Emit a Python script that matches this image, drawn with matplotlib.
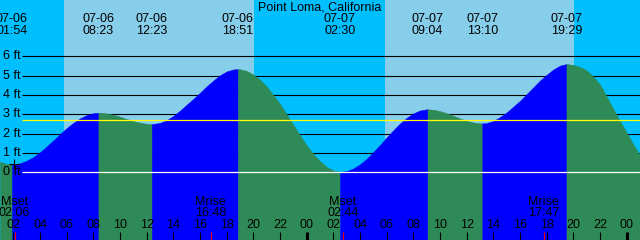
import matplotlib
matplotlib.use("Agg")
import numpy as np
import matplotlib.pyplot as plt
import matplotlib.transforms as mtransforms

plt.rcParams['font.family'] = ['Liberation Sans', 'DejaVu Sans']

station = "Point Loma, California"

# tide extremes (time, height in ft)
tide_times = ["07-06 01:54", "07-06 08:23", "07-06 12:23", "07-06 18:51",
              "07-07 02:30", "07-07 09:04", "07-07 13:10", "07-07 19:29"]
tide_heights = [0.41, 3.08, 2.50, 5.34, 0.02, 3.26, 2.53, 5.60]
tide_kind = ["low", "high", "low", "high", "low", "high", "low", "high"]

# heights every half hour, 07-06 01:00 .. 07-08 01:00
halfhour_heights = [
    0.55, 0.43, 0.41, 0.47, 0.60, 0.79, 1.04, 1.34, 1.65, 1.98,
    2.29, 2.56, 2.79, 2.96, 3.06, 3.08, 3.05, 2.98, 2.88, 2.76,
    2.65, 2.57, 2.51, 2.50, 2.56, 2.70, 2.92, 3.19, 3.50, 3.80,
    4.12, 4.45, 4.75, 5.02, 5.22, 5.32, 5.33, 5.25, 5.06, 4.80,
    4.45, 4.00, 3.55, 3.00, 2.45, 1.92, 1.40, 0.95, 0.58, 0.28,
    0.10, 0.02, 0.07, 0.20, 0.42, 0.70, 1.05, 1.42, 1.81, 2.18,
    2.53, 2.82, 3.05, 3.20, 3.26, 3.24, 3.17, 3.06, 2.93, 2.79,
    2.67, 2.58, 2.54, 2.55, 2.66, 2.86, 3.10, 3.40, 3.70, 4.05,
    4.40, 4.75, 5.05, 5.32, 5.52, 5.60, 5.56, 5.45, 5.28, 4.95,
    4.55, 3.92, 3.28, 2.66, 2.05, 1.45, 0.88]

sunrise = ["07-06 05:48", "07-07 05:53"]
sunset = ["07-06 20:03", "07-07 20:03"]

moon_names = ["Mset", "Mrise", "Mset", "Mrise"]
moon_times = ["07-06 02:06", "07-06 16:48", "07-07 02:44", "07-07 17:47"]

mark_time = "07-06 02:03"
mark_height = 0.42

mean_level = 2.69
ft_levels = [1, 2, 3, 4, 5, 6]

start, end = 1.0, 49.0   # hours from 07-06 00:00


def hrs(s):
    # "07-06 01:54" -> hours since 07-06 00:00
    day = int(s[3:5]) - 6
    return day * 24 + int(s[6:8]) + int(s[9:11]) / 60.0


# pixel helpers (figure is 640x240, axes fill it)
px_per_hr = 640 / (end - start)
y0_px, px_per_ft = 172.3, 19.33
ybot = (y0_px - 240) / px_per_ft
ytop = y0_px / px_per_ft
fs = 9

fig = plt.figure(figsize=(6.4, 2.4), dpi=100)
ax = fig.add_axes([0, 0, 1, 1])
ax.set_xlim(start, end)
ax.set_ylim(ybot, ytop)
ax.axis('off')
trans = mtransforms.blended_transform_factory(ax.transData, ax.transAxes)

def yfrac(px):
    return 1 - px / 240.0

# sky
ax.axvspan(start, end, color='#00BFFF', lw=0, zorder=0)
for r, s in zip(sunrise, sunset):
    ax.axvspan(hrs(r), hrs(s), color='#87CEEB', lw=0, zorder=0)

# level lines under the water
xline = start + 22 / px_per_hr
ax.hlines(ft_levels, xline, end, color='black', lw=0.8, zorder=1)

# tide curve
t = np.array([start + 0.5 * i for i in range(len(halfhour_heights))] + [hrs(s) for s in tide_times])
h = np.array(halfhour_heights + tide_heights)
order = np.argsort(t, kind='stable')
t, h = t[order], h[order]

bounds = [start] + [hrs(s) for s in tide_times] + [end]
kinds = tide_kind + ["low"]
for a, b, k in zip(bounds[:-1], bounds[1:], kinds):
    m = (t >= a) & (t <= b)
    col = '#0000FF' if k == "high" else '#2E8B57'
    ax.fill_between(t[m], h[m], ybot - 1, color=col, lw=0.3, edgecolor=col, zorder=2)

ax.hlines(0, xline, end, color='white', lw=0.9, zorder=3)
ax.hlines(mean_level, xline, end, color='yellow', lw=0.9, zorder=3)

ax.plot(hrs(mark_time), mark_height, marker='+', color='black', ms=7, mew=0.8, zorder=4)

# y labels
for lv in [0] + ft_levels:
    ax.text(3 / 640, (lv - ybot) / (ytop - ybot), f"{lv} ft", transform=ax.transAxes,
            ha='left', va='center', fontsize=fs, zorder=5)

# title and tide event labels
ax.text(0.5, yfrac(7.7), station, transform=ax.transAxes, ha='center', va='center',
        fontsize=fs, zorder=5)
for s in tide_times:
    ax.text(hrs(s), yfrac(19.5), s[:5], transform=trans, ha='center', va='center',
            fontsize=fs, zorder=5)
    ax.text(hrs(s), yfrac(31.5), s[6:], transform=trans, ha='center', va='center',
            fontsize=fs, zorder=5)

# moon events
for name, s in zip(moon_names, moon_times):
    ax.text(hrs(s), yfrac(202), name, transform=trans, ha='center', va='center',
            fontsize=fs, zorder=5)
    ax.text(hrs(s), yfrac(213.5), s[6:], transform=trans, ha='center', va='center',
            fontsize=fs, zorder=5)

# hour ticks
for hr in range(2, 49, 2):
    ax.vlines(hr, 0, 8 / 240, transform=trans, color='black',
              lw=2.2 if hr % 24 == 0 else 0.8, zorder=5)
    ax.text(hr, yfrac(225), f"{hr % 24:02d}", transform=trans, ha='center', va='center',
            fontsize=fs, zorder=5)
for s in moon_times:
    ax.vlines(hrs(s), 0, 8 / 240, transform=trans, color='red', lw=0.8, zorder=6)

fig.savefig("out.png", dpi=100)
